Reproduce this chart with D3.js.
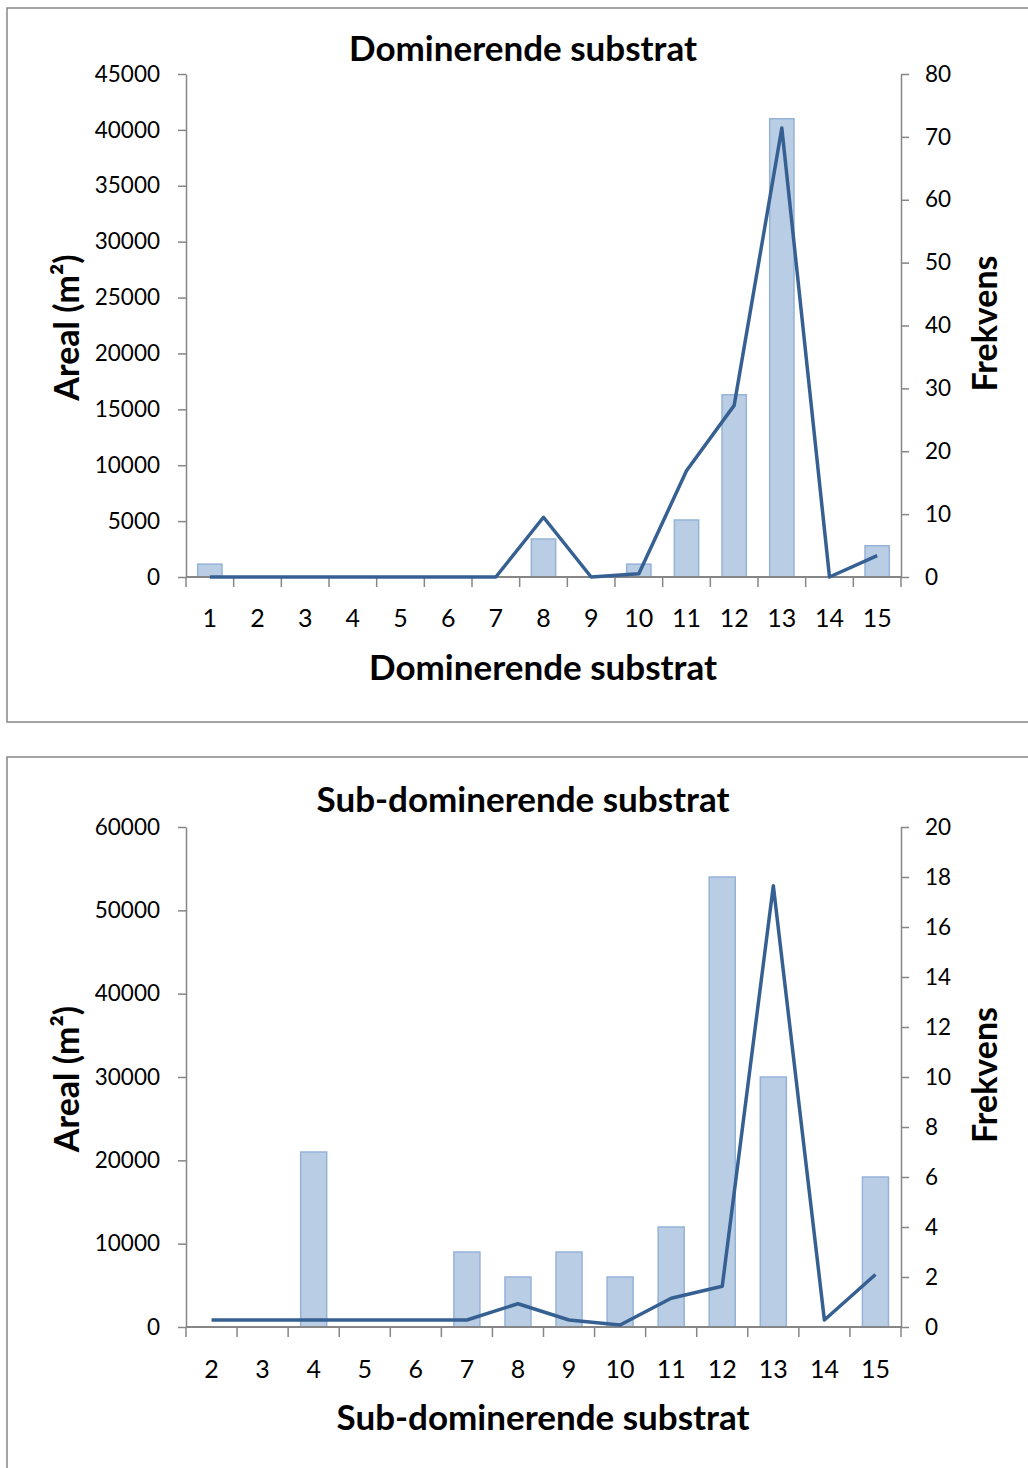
<!DOCTYPE html>
<html>
<head>
<meta charset="utf-8">
<script src="https://cdn.jsdelivr.net/npm/d3@7"></script>
<style>
  body { margin: 0; background: #fff; }
  svg { display: block; font-family: Lato, "Open Sans", sans-serif; }
</style>
</head>
<body>
<svg id="chart" width="1028" height="1468"></svg>
<script>
// Dominerende substrat
const domCats = [1, 2, 3, 4, 5, 6, 7, 8, 9, 10, 11, 12, 13, 14, 15];
const domAreal = [1150, 0, 0, 0, 0, 0, 0, 3400, 0, 1150, 5100, 16300, 41000, 0, 2800];
const domFrekvens = [0, 0, 0, 0, 0, 0, 0, 9.5, 0, 0.5, 16.9, 27.3, 71.4, 0, 3.4];
const domArealTicks = [0, 5000, 10000, 15000, 20000, 25000, 30000, 35000, 40000, 45000];
const domFrekTicks = [0, 10, 20, 30, 40, 50, 60, 70, 80];

// Sub-dominerende substrat
const subCats = [2, 3, 4, 5, 6, 7, 8, 9, 10, 11, 12, 13, 14, 15];
const subAreal = [0, 0, 21000, 0, 0, 9000, 6000, 9000, 6000, 12000, 54000, 30000, 0, 18000];
const subFrekvens = [0.28, 0.28, 0.28, 0.28, 0.28, 0.28, 0.93, 0.28, 0.08, 1.15, 1.63, 17.65, 0.28, 2.1];
const subArealTicks = [0, 10000, 20000, 30000, 40000, 50000, 60000];
const subFrekTicks = [0, 2, 4, 6, 8, 10, 12, 14, 16, 18, 20];

const AXIS = '#868686';
const BAR_FILL = '#b9cde5';
const BAR_STROKE = '#95b3d7';
const LINE = '#376092';

const svg = d3.select('#chart');

function panel(cfg) {
  const { top, cats, areal, frek, leftTicks, rightTicks, title } = cfg;
  const L = 186, R = 901;
  const y0 = top + cfg.plotTop, y1 = top + cfg.plotBottom;

  svg.append('rect')
    .attr('x', 7).attr('y', top + 8)
    .attr('width', 1040).attr('height', cfg.frameH)
    .attr('fill', 'none').attr('stroke', AXIS).attr('stroke-width', 1.5);

  const x = d3.scaleBand().domain(cats).range([L, R]).padding(0);
  const yL = d3.scaleLinear().domain([0, d3.max(leftTicks)]).range([y1, y0]);
  const yR = d3.scaleLinear().domain([0, d3.max(rightTicks)]).range([y1, y0]);
  const barW = x.bandwidth() * 0.51;

  // bars
  svg.append('g').selectAll('rect').data(cats).join('rect')
    .attr('x', d => x(d) + (x.bandwidth() - barW) / 2)
    .attr('y', (d, i) => yL(areal[i]))
    .attr('width', barW)
    .attr('height', (d, i) => y1 - yL(areal[i]))
    .attr('fill', BAR_FILL)
    .attr('stroke', BAR_STROKE)
    .attr('stroke-width', 1.5)
    .attr('display', (d, i) => areal[i] > 0 ? null : 'none');

  // left axis
  svg.append('g')
    .attr('transform', `translate(${L},0)`)
    .call(d3.axisLeft(yL).tickValues(leftTicks).tickFormat(d3.format('d')).tickSize(8).tickPadding(18).tickSizeOuter(0))
    .call(a => a.selectAll('path,line').attr('stroke', AXIS).attr('stroke-width', 1.5))
    .call(a => a.selectAll('text').attr('fill', '#000').attr('font-size', 22.5).attr('font-family', 'Lato'));

  // right axis
  svg.append('g')
    .attr('transform', `translate(${R},0)`)
    .call(d3.axisRight(yR).tickValues(rightTicks).tickFormat(d3.format('d')).tickSize(8).tickPadding(16).tickSizeOuter(0))
    .call(a => a.selectAll('path,line').attr('stroke', AXIS).attr('stroke-width', 1.5))
    .call(a => a.selectAll('text').attr('fill', '#000').attr('font-size', 22.5).attr('font-family', 'Lato'));

  // x axis with ticks between categories
  const xg = svg.append('g').attr('transform', `translate(0,${y1})`);
  xg.append('line').attr('x1', L).attr('x2', R).attr('stroke', AXIS).attr('stroke-width', 2);
  xg.selectAll('line.tk').data(cats.concat(['end'])).join('line')
    .attr('class', 'tk')
    .attr('x1', (d, i) => i < cats.length ? x(d) : R)
    .attr('x2', (d, i) => i < cats.length ? x(d) : R)
    .attr('y1', 0).attr('y2', 10)
    .attr('stroke', AXIS).attr('stroke-width', 1.5);
  xg.selectAll('text').data(cats).join('text')
    .attr('x', d => x(d) + x.bandwidth() / 2)
    .attr('y', cfg.tickLabelY)
    .attr('text-anchor', 'middle')
    .attr('font-size', 25)
    .text(d => d);

  // frequency line
  const line = d3.line()
    .x((d, i) => x(cats[i]) + x.bandwidth() / 2)
    .y(d => yR(d));
  svg.append('path')
    .datum(frek)
    .attr('d', line)
    .attr('fill', 'none')
    .attr('stroke', LINE)
    .attr('stroke-width', 3.5)
    .attr('stroke-linejoin', 'round');

  // titles
  svg.append('text')
    .attr('x', 523).attr('y', top + cfg.titleY)
    .attr('text-anchor', 'middle')
    .attr('font-weight', 700).attr('font-size', 35)
    .text(title);
  svg.append('text')
    .attr('x', 543).attr('y', top + cfg.xTitleY)
    .attr('text-anchor', 'middle')
    .attr('font-weight', 700).attr('font-size', 35)
    .text(title);
  svg.append('text')
    .attr('transform', `translate(79,${(y0 + y1) / 2 + 2}) rotate(-90)`)
    .attr('text-anchor', 'middle')
    .attr('font-weight', 700).attr('font-size', 34)
    .text('Areal (m²)');
  svg.append('text')
    .attr('transform', `translate(997,${(y0 + y1) / 2 - 2}) rotate(-90)`)
    .attr('text-anchor', 'middle')
    .attr('font-weight', 700).attr('font-size', 34)
    .text('Frekvens');
}

panel({
  top: 0, frameH: 714, plotTop: 74, plotBottom: 577,
  cats: domCats, areal: domAreal, frek: domFrekvens,
  leftTicks: domArealTicks, rightTicks: domFrekTicks,
  title: 'Dominerende substrat', titleY: 61, xTitleY: 680, tickLabelY: 50
});

panel({
  top: 749, frameH: 760, plotTop: 78, plotBottom: 578,
  cats: subCats, areal: subAreal, frek: subFrekvens,
  leftTicks: subArealTicks, rightTicks: subFrekTicks,
  title: 'Sub-dominerende substrat', titleY: 63, xTitleY: 681, tickLabelY: 51
});
</script>
</body>
</html>
